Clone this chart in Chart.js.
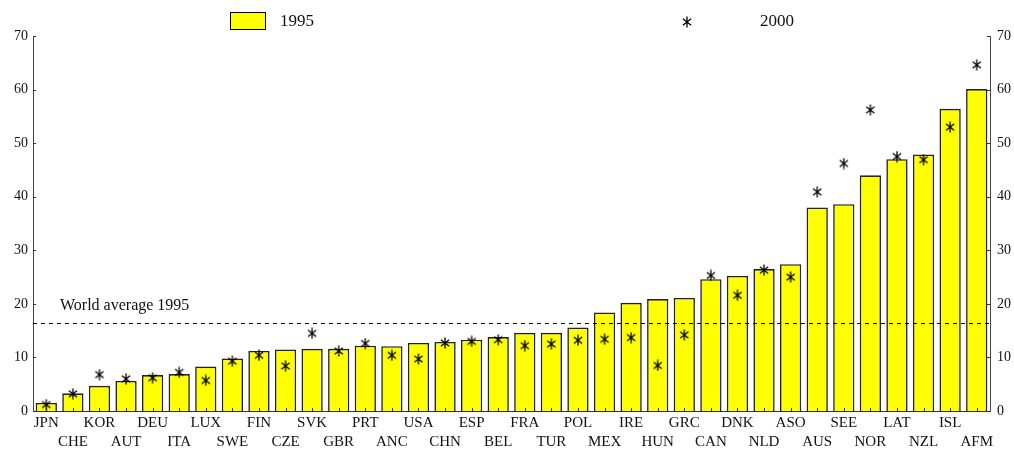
<!DOCTYPE html>
<html lang="en">
<head>
  <meta charset="UTF-8">
  <title>1995 / 2000</title>
  <script src="https://cdn.jsdelivr.net/npm/chart.js@4.4.0/dist/chart.umd.min.js"></script>
  <style>
    html, body { margin: 0; padding: 0; background: #fff; }
    #wrap { width: 1014px; height: 450px; position: relative; }
  </style>
</head>
<body>
<div id="wrap"><canvas id="grafico"></canvas></div>

<script>
  const paises = ["JPN", "CHE", "KOR", "AUT", "DEU", "ITA", "LUX", "SWE", "FIN", "CZE", "SVK", "GBR",
                  "PRT", "ANC", "USA", "CHN", "ESP", "BEL", "FRA", "TUR", "POL", "MEX", "IRE", "HUN",
                  "GRC", "CAN", "DNK", "NLD", "ASO", "AUS", "SEE", "NOR", "LAT", "NZL", "ISL", "AFM"];
  const valores1995 = [1.5, 3.3, 4.7, 5.6, 6.7, 6.9, 8.3, 9.8, 11.2, 11.5, 11.6, 11.6,
                       12.2, 12.1, 12.7, 12.9, 13.3, 13.8, 14.6, 14.6, 15.6, 18.4, 20.2, 20.9,
                       21.1, 24.6, 25.2, 26.5, 27.4, 38.0, 38.6, 44.0, 47.0, 47.9, 56.4, 60.1];
  const valores2000 = [1.2, 3.2, 6.8, 6.0, 6.2, 7.2, 5.7, 9.3, 10.4, 8.4, 14.5, 11.2,
                       12.6, 10.4, 9.7, 12.7, 13.0, 13.3, 12.2, 12.5, 13.2, 13.4, 13.7, 8.5,
                       14.2, 25.3, 21.6, 26.3, 25.0, 40.9, 46.2, 56.2, 47.5, 46.9, 53.0, 64.6];
  const mediaMundial1995 = 16.5;
  const ticksY = [0, 10, 20, 30, 40, 50, 60, 70];

  const fonte = "'Liberation Serif', 'DejaVu Serif', serif";

  // rótulos alternados em duas linhas
  const rotulos = paises.map((p, i) => i % 2 === 0 ? [p, ""] : ["", p]);

  // asterisco de 6 pontas
  function criarAsterisco(tam) {
    const c = document.createElement("canvas");
    c.width = tam; c.height = tam;
    const g = c.getContext("2d");
    const m = tam / 2, r = tam / 2 - 0.5;
    g.strokeStyle = "#000";
    g.lineWidth = 1.3;
    g.beginPath();
    g.moveTo(m, 0.5); g.lineTo(m, tam - 0.5);
    [35, -35].forEach(a => {
      const rad = a * Math.PI / 180;
      const dx = (r - 0.5) * Math.cos(rad), dy = r * Math.sin(rad);
      g.moveTo(m - dx, m - dy);
      g.lineTo(m + dx, m + dy);
    });
    g.stroke();
    return c;
  }
  const asterisco = criarAsterisco(12);

  const extras = {
    id: "extras",
    afterDatasetsDraw(chart) {
      const { ctx, chartArea, scales } = chart;
      ctx.save();
      // marcas internas dos eixos
      ctx.strokeStyle = "#333";
      ctx.lineWidth = 1;
      ctx.beginPath();
      ticksY.forEach(v => {
        const y = Math.round(scales.y.getPixelForValue(v)) + 0.5;
        ctx.moveTo(chartArea.left, y); ctx.lineTo(chartArea.left + 3, y);
        ctx.moveTo(chartArea.right, y); ctx.lineTo(chartArea.right - 3, y);
      });
      paises.forEach((p, i) => {
        const x = Math.round(scales.x.getPixelForValue(i)) + 0.5;
        ctx.moveTo(x, chartArea.bottom); ctx.lineTo(x, chartArea.bottom - 3);
      });
      ctx.stroke();

      // linha da média mundial
      const yMedia = Math.round(scales.y.getPixelForValue(mediaMundial1995)) + 0.5;
      ctx.strokeStyle = "#000";
      ctx.setLineDash([4, 4]);
      ctx.beginPath();
      ctx.moveTo(chartArea.left, yMedia);
      ctx.lineTo(chartArea.right, yMedia);
      ctx.stroke();
      ctx.setLineDash([]);

      ctx.fillStyle = "#111";
      ctx.font = "16px " + fonte;
      ctx.textBaseline = "alphabetic";
      ctx.fillText("World average 1995", 60, yMedia - 14);

      // legenda
      ctx.fillStyle = "#ffff00";
      ctx.fillRect(230, 12, 36, 18);
      ctx.strokeStyle = "#000";
      ctx.lineWidth = 1;
      ctx.strokeRect(230.5, 12.5, 35, 17);
      ctx.fillStyle = "#111";
      ctx.font = "17px " + fonte;
      ctx.textBaseline = "middle";
      ctx.fillText("1995", 280, 22);
      ctx.drawImage(asterisco, 681, 16);
      ctx.fillText("2000", 760, 22);
      ctx.restore();
    }
  };

  const escalaY = (pos) => ({
    type: "linear",
    position: pos,
    min: 0,
    max: 70,
    afterFit(s) { s.width = pos === "left" ? 33 : 24; },
    afterBuildTicks(s) { s.ticks = ticksY.map(v => ({ value: v })); },
    grid: { display: false, drawTicks: false },
    border: { display: true, color: "#444", width: 1 },
    ticks: {
      padding: pos === "left" ? 5 : 7,
      color: "#111",
      font: { family: fonte, size: 14 }
    }
  });

  new Chart(document.getElementById("grafico"), {
    data: {
      labels: rotulos,
      datasets: [
        {
          type: "line",
          label: "2000",
          data: valores2000,
          showLine: false,
          pointStyle: asterisco,
          pointRadius: 6,
          order: 0,
          yAxisID: "y"
        },
        {
          type: "bar",
          label: "1995",
          data: valores1995,
          backgroundColor: "#ffff00",
          borderColor: "#222",
          borderWidth: 1.6,
          barPercentage: 0.8,
          categoryPercentage: 1.0,
          order: 1,
          yAxisID: "y"
        }
      ]
    },
    options: {
      responsive: true,
      maintainAspectRatio: false,
      animation: false,
      layout: { padding: { top: 36, left: 0, right: 0, bottom: 0 } },
      plugins: {
        legend: { display: false },
        tooltip: { enabled: false }
      },
      scales: {
        x: {
          type: "category",
          afterFit(s) { s.height = 39; },
          grid: { display: false, drawTicks: false },
          border: { display: true, color: "#333", width: 1 },
          ticks: {
            autoSkip: false,
            maxRotation: 0,
            padding: 3,
            color: "#111",
            font: { family: fonte, size: 15, lineHeight: 1.25 }
          }
        },
        y: escalaY("left"),
        y2: escalaY("right")
      }
    },
    plugins: [extras]
  });
</script>
</body>
</html>
